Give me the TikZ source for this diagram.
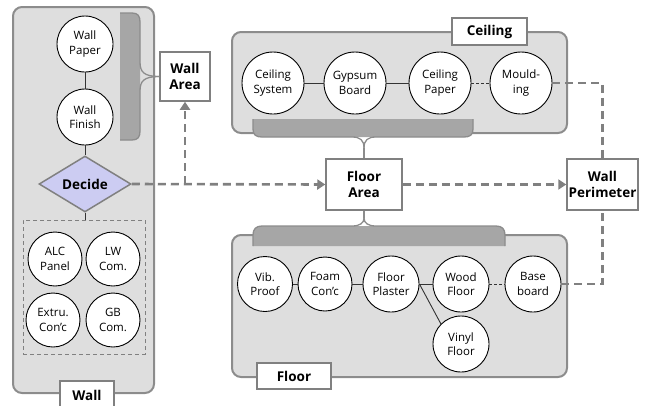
\documentclass[tikz,border=0pt]{standalone}
\usepackage{fontspec}
\setmainfont{Open Sans}
\usetikzlibrary{arrows.meta,shapes.geometric}
\definecolor{panel}{HTML}{DEDEDE}
\definecolor{pborder}{HTML}{8C8C8C}
\definecolor{brk}{HTML}{A6A6A6}
\definecolor{flowc}{HTML}{808080}
\definecolor{dec}{HTML}{CCCCF2}
\begin{document}
\begin{tikzpicture}[x=1pt,y=-1pt,
 panelbox/.style={draw=pborder, fill=panel, line width=2pt, rounded corners=9pt, inner sep=0pt},
 item/.style={circle, draw=black, fill=white, line width=0.9pt, minimum size=56pt, inner sep=0pt, align=center, font=\fontsize{11.5}{14.3}\selectfont},
 sitem/.style={item, minimum size=54pt},
 citem/.style={item, minimum size=62pt},
 lab/.style={draw=flowc, fill=white, line width=1.5pt, align=center, font=\fontsize{13.5}{16.5}\selectfont\bfseries, inner sep=0pt},
 flow/.style={draw=flowc, line width=2.6pt, dash pattern=on 8pt off 5pt, -{Triangle[length=8pt,width=10pt]}},
 gline/.style={draw=flowc, line width=2.6pt, dash pattern=on 8pt off 5pt},
 link/.style={draw=black!80, line width=0.9pt},
 dlink/.style={link, dash pattern=on 3pt off 2pt},
 bracefill/.style={fill=brk, draw=none},
 braceline/.style={draw=pborder, line width=1.3pt}
]
\useasboundingbox (0,0) rectangle (647,405);

% panels
\node[panelbox, minimum width=141pt, minimum height=386pt] (wallp) at (83.5,200) {};
\node[panelbox, minimum width=335pt, minimum height=101pt] (ceilp) at (399.5,82.5) {};
\node[panelbox, minimum width=335pt, minimum height=142pt] (floorp) at (399.5,306) {};

% boxes
\node[lab, minimum width=50pt, minimum height=49pt] (wa) at (185,76.5) {Wall\\Area};
\node[lab, minimum width=76pt, minimum height=51pt] (fa) at (364,184.5) {Floor\\Area};
\node[lab, minimum width=71pt, minimum height=51pt] (wp) at (602.5,184.5) {Wall\\Perimeter};
\node[lab, minimum width=75pt, minimum height=27pt] (cl) at (489.5,31.5) {Ceiling};
\node[lab, minimum width=74pt, minimum height=26pt] (fl) at (294,376) {Floor};
\node[lab, minimum width=54pt, minimum height=29pt] (wl) at (87,395.5) {Wall};

% wall brace
\path[bracefill] (120,13) -- (132,13) .. controls (138,13) and (140,16) .. (140,22) -- (140,131) .. controls (140,137) and (138,140) .. (132,140) -- (120,140) -- cycle;
\draw[braceline] (120,13) -- (132,13) .. controls (138,13) and (140,16) .. (140,22) -- (140,62) .. controls (140,72) and (144,76.5) .. (wa.west);
\draw[braceline] (120,140) -- (132,140) .. controls (138,140) and (140,137) .. (140,131) -- (140,91) .. controls (140,81) and (144,76.5) .. (wa.west);

% ceiling brace
\coordinate (ct) at (364,148);
\path[bracefill] (253,119) -- (253,129) .. controls (253,135) and (256,137) .. (262,137) -- (464,137) .. controls (470,137) and (473,135) .. (473,129) -- (473,119) -- cycle;
\draw[braceline] (253,119) -- (253,129) .. controls (253,135) and (256,137) .. (262,137) -- (352,137) .. controls (360,137) and (364,140) .. (ct);
\draw[braceline] (473,119) -- (473,129) .. controls (473,135) and (470,137) .. (464,137) -- (376,137) .. controls (368,137) and (364,140) .. (ct);
\draw[braceline] (ct) -- (fa.north);

% floor brace
\coordinate (ft) at (364,218);
\path[bracefill] (253,246) -- (253,235) .. controls (253,229) and (256,226) .. (262,226) -- (496,226) .. controls (502,226) and (505,229) .. (505,235) -- (505,246) -- cycle;
\draw[braceline] (253,246) -- (253,235) .. controls (253,229) and (256,226) .. (262,226) -- (352,226) .. controls (360,226) and (364,223) .. (ft);
\draw[braceline] (505,246) -- (505,235) .. controls (505,229) and (502,226) .. (496,226) -- (376,226) .. controls (368,226) and (364,223) .. (ft);
\draw[braceline] (ft) -- (fa.south);

% wall items
\node[item] (wpap) at (85,44) {Wall\\Paper};
\node[item] (wfin) at (85,117) {Wall\\Finish};
\node[diamond, draw=flowc, fill=dec, line width=1.5pt, minimum width=92pt, minimum height=44pt, inner sep=0pt, font=\fontsize{13.5}{16.5}\selectfont\bfseries] (dec) at (85,184) {Decide};
\node[draw=flowc, line width=1pt, dash pattern=on 4pt off 3pt, minimum width=122pt, minimum height=134pt, inner sep=0pt] (grp) at (84,287) {};
\node[sitem] (alc) at (55,259) {ALC\\Panel};
\node[sitem] (lw) at (113,259) {LW\\Com.};
\node[sitem] (ext) at (53,320) {Extru.\\Con’c};
\node[sitem] (gb) at (113,320) {GB\\Com.};
\draw[link] (wpap) -- (wfin);
\draw[link] (wfin) -- (dec.north);
\draw[link] (dec.south) -- (dec.south |- grp.north);

% ceiling items
\node[citem] (cs) at (273,83) {Ceiling\\System};
\node[citem] (gyp) at (355,83) {Gypsum\\Board};
\node[citem] (cp) at (440,83) {Ceiling\\Paper};
\node[citem] (mo) at (521,83) {Mould-\\ing};
\draw[link] (cs) -- (gyp);
\draw[link] (gyp) -- (cp);
\draw[dlink] (cp) -- (mo);

% floor items
\node[item, minimum size=55pt] (vib) at (265,284) {Vib.\\Proof};
\node[item, minimum size=54pt] (foam) at (325,284) {Foam\\Con’c};
\node[item] (pl) at (391,284) {Floor\\Plaster};
\node[item] (wood) at (461,284) {Wood\\Floor};
\node[item] (base) at (533,284) {Base\\board};
\node[item] (vin) at (461,344) {Vinyl\\Floor};
\draw[link] (vib) -- (foam);
\draw[link] (foam) -- (pl);
\draw[link] (pl) -- (wood);
\draw[link] (pl.east) -- (vin.north west);
\draw[dlink] (wood) -- (base);

% flows
\coordinate (br) at (wa.south |- dec.east);
\draw[flow] (dec.east) -- (fa.west);
\draw[flow] (br) -- (wa.south);
\draw[flow] (fa.east) -- (wp.west);
\draw[gline] (mo.east) -| (wp.north);
\draw[gline] (base.east) -| (wp.south);
\end{tikzpicture}
\end{document}
